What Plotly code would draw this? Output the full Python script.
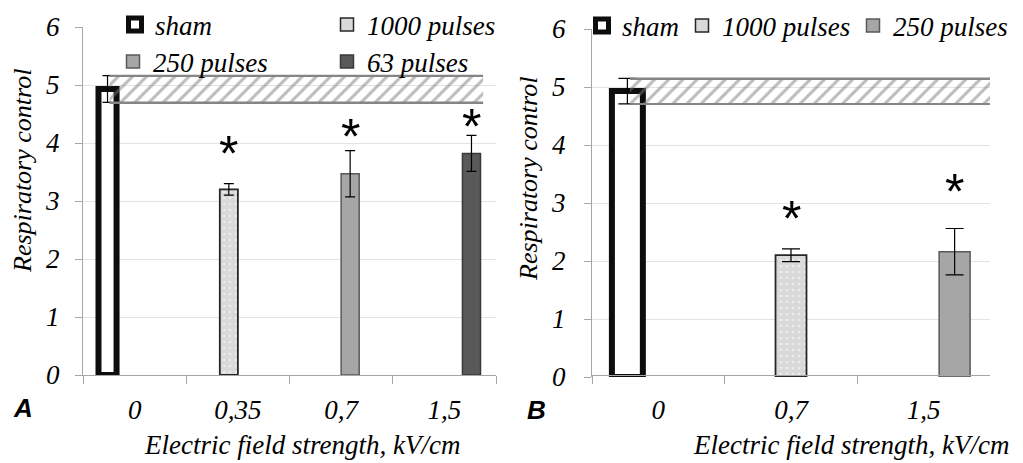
import plotly.graph_objects as go

# ---------------- data ----------------
cats_A = ['0', '0,35', '0,7', '1,5']
series_A = ['sham', '1000 pulses', '250 pulses', '63 pulses']
values_A = [4.93, 3.20, 3.47, 3.82]
errors_A = [0.23, 0.10, 0.40, 0.31]
signif_A = [False, True, True, True]

cats_B = ['0', '0,7', '1,5']
series_B = ['sham', '1000 pulses', '250 pulses']
values_B = [4.93, 2.10, 2.16]
errors_B = [0.22, 0.11, 0.40]
signif_B = [False, True, True]

y_ticks = [0, 1, 2, 3, 4, 5, 6]
y_title = 'Respiratory control'
x_title = 'Electric field strength, kV/cm'

# ---------------- styles / placement ----------------
SERIF = 'Liberation Serif'
SANS = 'Liberation Sans'
FS = 27
BARGAP = 0.30
styles = {
    'sham': dict(color='white', line=dict(color='#0d0d0d', width=6)),
    '1000 pulses': dict(color='#d9d9d9', line=dict(color='#262626', width=1.8),
                        pattern=dict(shape='.', fgcolor='white', size=6, solidity=0.15)),
    '250 pulses': dict(color='#a6a6a6', line=dict(color='#595959', width=1.5)),
    '63 pulses': dict(color='#595959', line=dict(color='#3a3a3a', width=1.5)),
}
legend_marker = {
    'sham': dict(color='white', size=13, line=dict(color='#0d0d0d', width=5)),
    '1000 pulses': dict(color='#d9d9d9', size=13, line=dict(color='#262626', width=1.5)),
    '250 pulses': dict(color='#a6a6a6', size=13, line=dict(color='#595959', width=1.5)),
    '63 pulses': dict(color='#595959', size=13, line=dict(color='#3a3a3a', width=1.5)),
}
# page offset (browser body margin) and figure size
OFF = 8
W, H = 1023 - OFF, 463 - OFF


def px(xp):
    return (xp - OFF) / W


def py(yp):
    return 1 - (yp - OFF) / H


# legend text start x (px) and row centre y (px), in window pixels
leg_pos_A = {'sham': (155, 25), '1000 pulses': (367, 25), '250 pulses': (153, 62), '63 pulses': (367, 62)}
leg_pos_B = {'sham': (622, 26), '1000 pulses': (722, 26), '250 pulses': (893, 26)}
# asterisk centre heights (data units)
star_y_A = [None, 3.93, 4.22, 4.40]
star_y_B = [None, 2.84, 3.31]
band_end_extra = {'A': 0.375, 'B': 0.85}

dom = {
    'A': dict(x=[px(83), px(496)], y=[py(375), py(27)]),
    'B': dict(x=[px(592), px(990)], y=[py(377), py(29)]),
}

fig = go.Figure()
legend_layout = {}
annotations = []
leg_counter = [0]


def slot_center(i, n):
    group = 1 - BARGAP
    return -group / 2 + (i + 0.5) * group / n


def add_panel(key, cats, series, values, errors, signif, star_y, leg_pos, xa, ya, cap):
    n = len(series)
    for i, (s, v, e) in enumerate(zip(series, values, errors)):
        fig.add_trace(go.Bar(
            x=[cats[i]], y=[v], name=s, xaxis=xa, yaxis=ya,
            marker=styles[s], showlegend=False,
            offsetgroup=f'{key}{i}', alignmentgroup=key,
            error_y=dict(type='data', array=[e], color='black', thickness=1.2, width=cap),
        ))
    for i, s in enumerate(series):
        # legend proxy entry
        leg_counter[0] += 1
        lname = 'legend' if leg_counter[0] == 1 else f'legend{leg_counter[0]}'
        fig.add_trace(go.Scatter(
            x=[None], y=[None], mode='markers', name=s, xaxis=xa, yaxis=ya,
            marker=dict(symbol='square', **legend_marker[s]), legend=lname, showlegend=True,
        ))
        tx, ty = leg_pos[s]
        legend_layout[lname] = dict(
            x=px(tx - 40), xanchor='left', y=py(ty), yanchor='middle',
            bgcolor='rgba(0,0,0,0)', borderwidth=0, orientation='h',
            font=dict(family=SERIF, size=FS, style='italic', color='black'),
            itemsizing='trace', tracegroupgap=0,
        )
    for i in range(n):
        if signif[i]:
            annotations.append(dict(
                x=i + slot_center(i, n), y=star_y[i],
                xref=xa, yref=ya, text='*', showarrow=False,
                font=dict(family=SANS, size=50, color='black'),
                xanchor='center', yanchor='middle', yshift=-7,
            ))
    # hatched band = sham mean +/- error, drawn from sham bar to the right
    lo = values[0] - errors[0]
    hi = values[0] + errors[0]
    off = slot_center(0, n) + 0.02
    width = (len(cats) - 1 + band_end_extra[key]) - off
    fig.add_trace(go.Bar(
        x=[cats[0]], y=[hi - lo], base=[lo], offset=[off], width=[width],
        xaxis=xa, yaxis=ya, showlegend=False, cliponaxis=False, hoverinfo='skip',
        marker=dict(color='rgba(255,255,255,0)', line=dict(width=0),
                    pattern=dict(shape='/', fgcolor='#7a7a7a', size=10, solidity=0.3, fillmode='overlay')),
    ))
    t = 0.03
    for yv in (lo, hi):
        fig.add_trace(go.Bar(
            x=[cats[0]], y=[t], base=[yv - t / 2], offset=[off], width=[width],
            xaxis=xa, yaxis=ya, showlegend=False, cliponaxis=False, hoverinfo='skip',
            marker=dict(color='#858585', line=dict(width=0)),
        ))


add_panel('A', cats_A, series_A, values_A, errors_A, signif_A, star_y_A, leg_pos_A, 'x', 'y', 5)
add_panel('B', cats_B, series_B, values_B, errors_B, signif_B, star_y_B, leg_pos_B, 'x2', 'y2', 9)

AXC = '#a6a6a6'
tickfont = dict(family=SERIF, size=FS, style='italic', color='black')


def xaxis(key, cats):
    return dict(domain=dom[key]['x'], type='category', categoryorder='array', categoryarray=cats,
                range=[-0.5, len(cats) - 0.5], tickson='boundaries', ticks='outside', ticklen=8,
                tickcolor=AXC, tickwidth=1.3, showline=True, linecolor=AXC, linewidth=1.3,
                showgrid=False, tickfont=tickfont, ticklabelstandoff=10, fixedrange=True)


def yaxis(key, xa, standoff):
    return dict(domain=dom[key]['y'], range=[0, 6], tickvals=y_ticks, anchor=xa, ticks='outside',
                ticklen=7, tickcolor=AXC, tickwidth=1.3, showline=True, linecolor=AXC, linewidth=1.3,
                showgrid=True, gridcolor='#e3e3e3', gridwidth=1, zeroline=False,
                tickfont=tickfont, ticklabelstandoff=standoff, fixedrange=True)


# axis titles and panel letters
for key, cx, cy in (('A', 22, 171), ('B', 528, 179)):
    annotations.append(dict(x=px(cx), y=py(cy), xref='paper', yref='paper', text=y_title,
                            textangle=-90, showarrow=False, xanchor='center', yanchor='middle',
                            font=dict(family=SERIF, size=26, style='italic', color='black')))
for key, cx, cy in (('A', 302, 445), ('B', 851, 445)):
    annotations.append(dict(x=px(cx), y=py(cy), xref='paper', yref='paper', text=x_title,
                            showarrow=False, xanchor='center', yanchor='middle',
                            font=dict(family=SERIF, size=FS, style='italic', color='black')))
for txt, cx, cy in (('A', 23, 408), ('B', 536, 410)):
    annotations.append(dict(x=px(cx), y=py(cy), xref='paper', yref='paper', text=f'<b><i>{txt}</i></b>',
                            showarrow=False, xanchor='center', yanchor='middle',
                            font=dict(family=SANS, size=26, color='black')))

fig.update_layout(
    width=W, height=H, margin=dict(l=0, r=0, t=0, b=0, autoexpand=False),
    paper_bgcolor='white', plot_bgcolor='white',
    barmode='group', bargap=BARGAP, bargroupgap=0,
    xaxis=xaxis('A', cats_A), yaxis=yaxis('A', 'x', 10),
    xaxis2=xaxis('B', cats_B), yaxis2=yaxis('B', 'x2', 13),
    annotations=annotations,
    **legend_layout,
)
fig.write_html('out.html')
